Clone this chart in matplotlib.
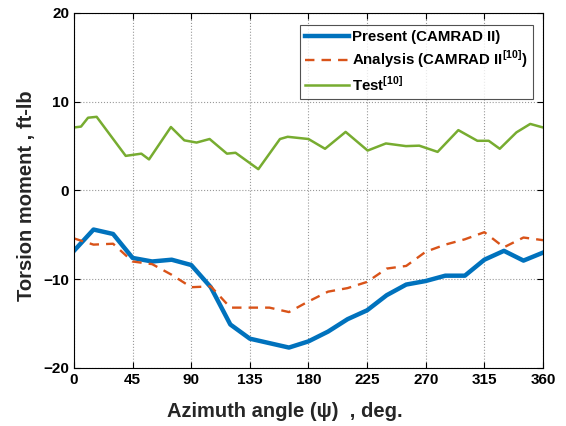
import matplotlib
matplotlib.use("Agg")
import matplotlib.pyplot as plt

plt.rcParams['font.family'] = ['Liberation Sans', 'DejaVu Sans']
plt.rcParams['font.weight'] = 'bold'
plt.rcParams['mathtext.fontset'] = 'custom'
plt.rcParams['mathtext.rm'] = 'Liberation Sans'
plt.rcParams['mathtext.bf'] = 'Liberation Sans:bold'

# Present (CAMRAD II) -- every 15 deg
present_x = [0, 15, 30, 45, 60, 75, 90, 105, 120, 135, 150, 165, 180,
             195, 210, 225, 240, 255, 270, 285, 300, 315, 330, 345, 360]
present_y = [-6.8, -4.4, -4.9, -7.6, -8.0, -7.8, -8.4, -10.9, -15.1, -16.7, -17.2, -17.7, -17.0,
             -15.9, -14.5, -13.5, -11.8, -10.6, -10.2, -9.6, -9.6, -7.8, -6.8, -7.9, -7.0]

# Analysis (CAMRAD II [10])
analysis_x = present_x
analysis_y = [-5.4, -6.1, -6.0, -8.0, -8.3, -9.5, -10.9, -10.8, -13.2, -13.2, -13.2, -13.7, -12.5,
              -11.4, -11.0, -10.3, -8.8, -8.5, -6.9, -6.1, -5.5, -4.7, -6.4, -5.3, -5.6]

# Test [10]
test_x = [0, 5.4, 10.8, 17.4, 39.7, 51.7, 57.6, 74.4, 84.7, 94.1, 104.1, 117.4, 124, 141.5,
          158.1, 164, 180, 192.7, 208.5, 225.4, 239.4, 254.8, 265, 279.1, 295, 309.6, 318.3,
          326.8, 339.6, 350.2, 360]
test_y = [7.1, 7.2, 8.2, 8.3, 3.9, 4.15, 3.5, 7.15, 5.65, 5.4, 5.8, 4.15, 4.25, 2.4,
          5.8, 6.05, 5.8, 4.7, 6.6, 4.5, 5.3, 5.0, 5.05, 4.35, 6.8, 5.6, 5.6,
          4.7, 6.55, 7.5, 7.1]

x_ticks = [0, 45, 90, 135, 180, 225, 270, 315, 360]
y_ticks = [-20, -10, 0, 10, 20]

fig = plt.figure(figsize=(5.66, 4.26), dpi=100)
ax = fig.add_axes([0.1307, 0.1362, 0.8287, 0.8333])

ax.plot(present_x, present_y, color='#0072BD', lw=3.2, label='Present (CAMRAD II)')
ax.plot(analysis_x, analysis_y, color='#D95319', lw=1.7, ls=(0, (4, 3)),
        label=r'Analysis (CAMRAD II$^{\mathbf{[10]}}$)')
ax.plot(test_x, test_y, color='#77AC30', lw=1.8, label=r'Test$^{\mathbf{[10]}}$')

ax.set_xlim(0, 360)
ax.set_ylim(-20, 20)
ax.set_xticks(x_ticks)
ax.set_yticks(y_ticks)
ax.tick_params(direction='in', top=True, right=True, labelsize=11, length=4, width=0.8)
for lbl in ax.get_xticklabels() + ax.get_yticklabels():
    lbl.set_fontweight('bold')
ax.grid(True, ls=':', color='#999999', lw=0.8)
for s in ax.spines.values():
    s.set_linewidth(0.8)

ax.set_xlabel('Azimuth angle (ψ)  , deg.', fontsize=14.5, fontweight='bold', color='#262626')
ax.set_ylabel('Torsion moment , ft-lb', fontsize=14.5, fontweight='bold', color='#262626')
ax.xaxis.set_label_coords(0.45, -0.095)
ax.yaxis.set_label_coords(-0.082, 0.484)

leg = ax.legend(loc='upper right', bbox_to_anchor=(0.978, 0.966), fontsize=10.8, frameon=True,
                fancybox=False, edgecolor='#262626', handlelength=2.9, handletextpad=0.2,
                borderpad=0.35, labelspacing=0.3, borderaxespad=0)
leg.get_frame().set_linewidth(0.8)
for t in leg.get_texts():
    t.set_fontweight('bold')

fig.savefig('out.png', dpi=100)
